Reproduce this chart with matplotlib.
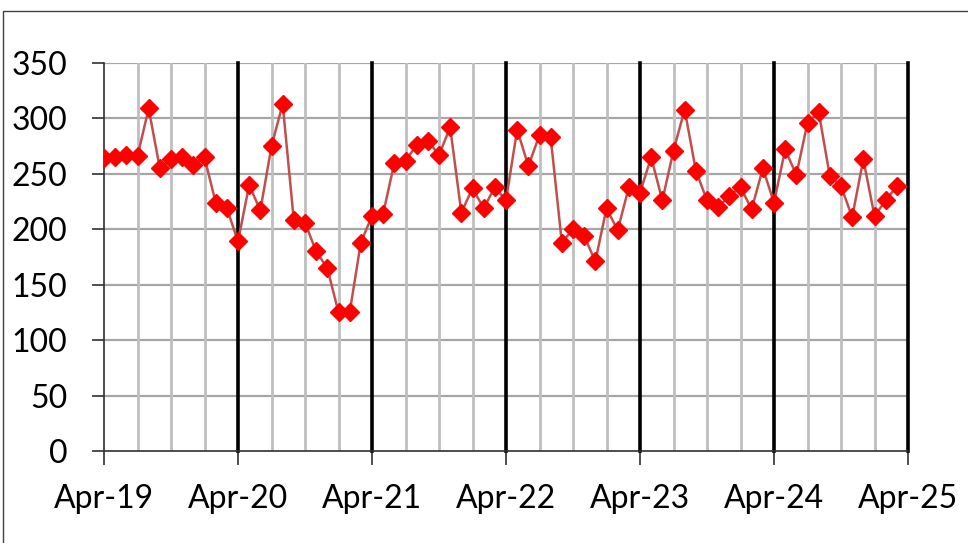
import matplotlib
matplotlib.use("Agg")
import matplotlib.pyplot as plt
from matplotlib.patches import Rectangle

# monthly values, Apr-19 .. Mar-25
values = [264, 265, 267, 266, 309, 255, 263, 265, 258, 265, 224, 219,
          189, 240, 217, 275, 313, 208, 206, 180, 165, 125, 125, 188,
          212, 214, 260, 262, 276, 280, 267, 292, 215, 237, 219, 238,
          226, 290, 257, 285, 283, 188, 200, 194, 171, 219, 199, 238,
          233, 265, 226, 271, 308, 253, 226, 220, 230, 238, 218, 255,
          224, 272, 249, 296, 306, 248, 239, 211, 263, 212, 226, 239]
months = list(range(len(values)))
year_labels = ["Apr-19", "Apr-20", "Apr-21", "Apr-22", "Apr-23", "Apr-24", "Apr-25"]
year_pos = [12 * i for i in range(len(year_labels))]
quarter_pos = [q for q in range(3, 72, 3) if q % 12 != 0]
y_ticks = [0, 50, 100, 150, 200, 250, 300, 350]

plt.rcParams['font.family'] = ['Lato', 'DejaVu Sans']

fig = plt.figure(figsize=(9.68, 5.43), dpi=100)
ax = fig.add_axes([104 / 968, 1 - 451 / 543, 804 / 968, 388 / 543])

for y in y_ticks[1:]:
    ax.axhline(y, color='#a6a6a6', lw=1.6, zorder=1)
for q in quarter_pos:
    ax.axvline(q, color='#bfbfbf', lw=2.0, zorder=1)
for p in year_pos[1:]:
    ax.axvline(p, color='black', lw=2.6, zorder=2, clip_on=False)

ax.plot(months, values, color='#c0504d', lw=1.8, marker='D', ms=9.5,
        mfc='#ff0000', mec='#ff0000', zorder=3)

ax.set_xlim(0, 72)
ax.set_ylim(0, 350)
ax.set_yticks(y_ticks)
ax.set_xticks(year_pos)
ax.set_xticklabels(year_labels)
ax.tick_params(axis='y', direction='out', length=8.5, width=1.2, color='#303030',
               labelsize=23, pad=18)
ax.tick_params(axis='x', direction='out', length=10, width=1.2, color='#303030',
               labelsize=23, pad=14)
for side in ['top', 'right']:
    ax.spines[side].set_visible(False)
ax.spines['left'].set_color('#303030')
ax.spines['bottom'].set_color('#303030')
ax.spines['left'].set_linewidth(1.2)
ax.spines['bottom'].set_linewidth(1.2)

# outer frame
fig.patches.append(Rectangle((3 / 968, -0.1), 1.2, 1 - 11 / 543 + 0.1,
                             transform=fig.transFigure, fill=False,
                             edgecolor='#404040', lw=1.0))

fig.savefig('out.png', dpi=100)
